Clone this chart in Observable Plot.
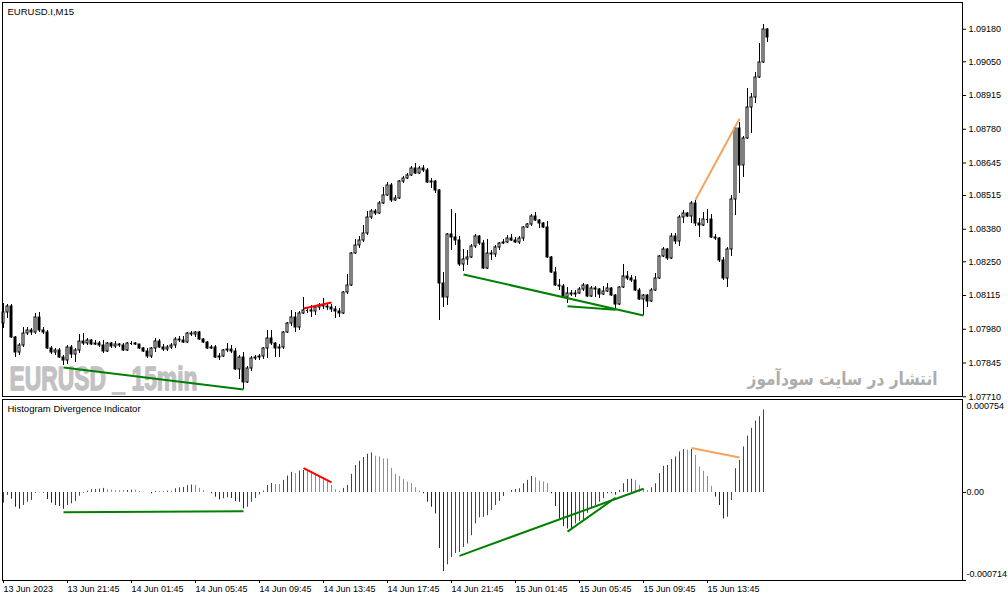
<!DOCTYPE html>
<html><head><meta charset="utf-8">
<script src="https://cdn.jsdelivr.net/npm/d3@7"></script>
<script src="https://cdn.jsdelivr.net/npm/@observablehq/plot@0.6"></script>
<style>
html,body{margin:0;padding:0;background:#fff;}
#chart{position:relative;width:1008px;height:601px;overflow:hidden;}
#chart svg{display:block;}
</style></head><body><div id="chart"></div>
<script>
// EURUSD.I M15 candles, bar 0 = 13 Jun 2023 17:45
const open = [1.08003,1.08047,1.08071,1.07947,1.07887,1.07915,1.07963,1.07975,1.07967,1.08027,1.07975,1.07967,1.07903,1.07887,1.07895,1.07867,1.07855,1.07907,1.07879,1.07895,
1.07931,1.07923,1.07935,1.07919,1.07923,1.07915,1.07891,1.07923,1.07911,1.07919,1.07915,1.07895,1.07923,1.07923,1.07919,1.07903,1.07891,1.07871,1.07903,1.07931,
1.07907,1.07899,1.07907,1.07915,1.07939,1.07935,1.07927,1.07963,1.07959,1.07967,1.07939,1.07927,1.07903,1.07907,1.07867,1.07871,1.07895,1.07899,1.07891,1.07819,
1.07867,1.07767,1.07823,1.07863,1.07867,1.07871,1.07903,1.07943,1.07923,1.07903,1.07907,1.07967,1.08003,1.08027,1.07987,1.08043,1.08055,1.08055,1.08051,1.08067,
1.08075,1.08071,1.08067,1.08059,1.08051,1.08043,1.08127,1.08155,1.08283,1.08315,1.08335,1.08363,1.08427,1.08451,1.08443,1.08483,1.08515,1.08555,1.08495,1.08503,
1.08571,1.08583,1.08595,1.08623,1.08603,1.08623,1.08615,1.08567,1.08571,1.08535,1.08163,1.08107,1.08359,1.08347,1.08335,1.08239,1.08259,1.08267,1.08311,1.08351,
1.08323,1.08223,1.08283,1.08279,1.08307,1.08323,1.08327,1.08343,1.08335,1.08327,1.08343,1.08387,1.08399,1.08431,1.08415,1.08403,1.08387,1.08267,1.08207,1.08155,
1.08151,1.08107,1.08123,1.08119,1.08123,1.08139,1.08155,1.08111,1.08143,1.08139,1.08119,1.08131,1.08143,1.08115,1.08079,1.08147,1.08191,1.08183,1.08175,1.08135,
1.08099,1.08115,1.08091,1.08135,1.08183,1.08271,1.08299,1.08263,1.08351,1.08331,1.08427,1.08443,1.08431,1.08483,1.08403,1.08395,1.08419,1.08419,1.08347,1.08343,
1.08255,1.08183,1.08299,1.08499,1.08783,1.08635,1.08743,1.08867,1.08907,1.08987,1.09047,1.09179];
const high = [1.08083,1.08079,1.08079,1.07951,1.07923,1.07987,1.07987,1.07983,1.08043,1.08047,1.07987,1.07975,1.07911,1.07903,1.07903,1.07875,1.07915,1.07915,1.07903,1.07959,
1.07963,1.07943,1.07939,1.07935,1.07931,1.07935,1.07927,1.07927,1.07931,1.07923,1.07923,1.07927,1.07931,1.07927,1.07919,1.07907,1.07903,1.07907,1.07943,1.07939,
1.07919,1.07915,1.07923,1.07947,1.07951,1.07951,1.07967,1.07971,1.07971,1.07971,1.07943,1.07931,1.07915,1.07915,1.07883,1.07899,1.07923,1.07915,1.07903,1.07875,
1.07887,1.07831,1.07871,1.07875,1.07879,1.07907,1.07975,1.07975,1.07927,1.07919,1.07971,1.08007,1.08055,1.08047,1.08051,1.08107,1.08067,1.08075,1.08071,1.08083,
1.08103,1.08083,1.08079,1.08071,1.08063,1.08131,1.08199,1.08287,1.08339,1.08351,1.08395,1.08451,1.08459,1.08459,1.08491,1.08547,1.08567,1.08563,1.08515,1.08575,
1.08591,1.08603,1.08631,1.08643,1.08631,1.08635,1.08623,1.08583,1.08575,1.08539,1.08207,1.08363,1.08459,1.08443,1.08351,1.08299,1.08295,1.08319,1.08359,1.08355,
1.08335,1.08339,1.08295,1.08315,1.08327,1.08339,1.08355,1.08359,1.08347,1.08351,1.08391,1.08403,1.08439,1.08447,1.08419,1.08407,1.08411,1.08271,1.08227,1.08179,
1.08159,1.08147,1.08135,1.08135,1.08147,1.08163,1.08159,1.08151,1.08151,1.08143,1.08151,1.08163,1.08147,1.08119,1.08151,1.08239,1.08211,1.08195,1.08191,1.08143,
1.08119,1.08119,1.08143,1.08203,1.08275,1.08307,1.08303,1.08363,1.08363,1.08435,1.08455,1.08447,1.08491,1.08495,1.08423,1.08447,1.08459,1.08439,1.08359,1.08347,
1.08267,1.08307,1.08515,1.08795,1.08807,1.08751,1.08943,1.08923,1.09007,1.09123,1.09199,1.09183];
const low = [1.07983,1.08023,1.07943,1.07867,1.07875,1.07907,1.07955,1.07955,1.07959,1.07967,1.07959,1.07899,1.07879,1.07875,1.07863,1.07835,1.07839,1.07863,1.07847,1.07883,
1.07915,1.07915,1.07915,1.07915,1.07907,1.07883,1.07887,1.07903,1.07903,1.07907,1.07891,1.07891,1.07915,1.07915,1.07899,1.07887,1.07863,1.07863,1.07887,1.07903,
1.07891,1.07891,1.07899,1.07903,1.07927,1.07923,1.07923,1.07951,1.07947,1.07935,1.07923,1.07899,1.07899,1.07863,1.07855,1.07867,1.07887,1.07883,1.07815,1.07779,
1.07739,1.07763,1.07811,1.07855,1.07855,1.07859,1.07863,1.07915,1.07867,1.07867,1.07899,1.07963,1.07991,1.07967,1.07975,1.08039,1.08043,1.08027,1.08035,1.08055,
1.08059,1.08055,1.08047,1.08023,1.08027,1.08039,1.08119,1.08151,1.08279,1.08303,1.08327,1.08355,1.08419,1.08435,1.08439,1.08479,1.08511,1.08487,1.08491,1.08499,
1.08563,1.08579,1.08591,1.08599,1.08599,1.08607,1.08563,1.08543,1.08523,1.08015,1.08067,1.08075,1.08295,1.08315,1.08231,1.08211,1.08235,1.08263,1.08303,1.08315,
1.08219,1.08219,1.08255,1.08267,1.08295,1.08319,1.08323,1.08331,1.08323,1.08319,1.08331,1.08383,1.08391,1.08411,1.08383,1.08383,1.08263,1.08203,1.08151,1.08135,
1.08103,1.08083,1.08111,1.08107,1.08119,1.08131,1.08107,1.08107,1.08107,1.08103,1.08115,1.08127,1.08111,1.08059,1.08075,1.08143,1.08175,1.08167,1.08131,1.08095,
1.08035,1.08067,1.08087,1.08131,1.08179,1.08267,1.08255,1.08259,1.08319,1.08311,1.08403,1.08427,1.08403,1.08391,1.08347,1.08391,1.08403,1.08343,1.08335,1.08247,
1.08175,1.08147,1.08271,1.08435,1.08523,1.08587,1.08739,1.08763,1.08883,1.08983,1.09043,1.09127];
const close = [1.08047,1.08071,1.07947,1.07887,1.07915,1.07963,1.07975,1.07967,1.08027,1.07975,1.07967,1.07903,1.07887,1.07895,1.07867,1.07855,1.07907,1.07879,1.07895,1.07931,
1.07923,1.07935,1.07919,1.07923,1.07915,1.07891,1.07923,1.07911,1.07919,1.07915,1.07895,1.07923,1.07923,1.07919,1.07903,1.07891,1.07871,1.07903,1.07931,1.07907,
1.07899,1.07907,1.07915,1.07939,1.07935,1.07927,1.07963,1.07959,1.07967,1.07939,1.07927,1.07903,1.07907,1.07867,1.07871,1.07895,1.07899,1.07891,1.07819,1.07867,
1.07767,1.07823,1.07863,1.07867,1.07871,1.07903,1.07943,1.07923,1.07903,1.07907,1.07967,1.08003,1.08027,1.07987,1.08043,1.08055,1.08055,1.08051,1.08067,1.08075,
1.08071,1.08067,1.08059,1.08051,1.08043,1.08127,1.08155,1.08283,1.08315,1.08335,1.08363,1.08427,1.08451,1.08443,1.08483,1.08515,1.08555,1.08495,1.08503,1.08571,
1.08583,1.08595,1.08623,1.08603,1.08623,1.08615,1.08567,1.08571,1.08535,1.08163,1.08107,1.08359,1.08347,1.08335,1.08239,1.08259,1.08267,1.08311,1.08351,1.08323,
1.08223,1.08283,1.08279,1.08307,1.08323,1.08327,1.08343,1.08335,1.08327,1.08343,1.08387,1.08399,1.08431,1.08415,1.08403,1.08387,1.08267,1.08207,1.08155,1.08151,
1.08107,1.08123,1.08119,1.08123,1.08139,1.08155,1.08111,1.08143,1.08139,1.08119,1.08131,1.08143,1.08115,1.08079,1.08147,1.08191,1.08183,1.08175,1.08135,1.08099,
1.08115,1.08091,1.08135,1.08183,1.08271,1.08299,1.08263,1.08351,1.08331,1.08427,1.08443,1.08431,1.08483,1.08403,1.08395,1.08419,1.08419,1.08347,1.08343,1.08255,
1.08183,1.08299,1.08499,1.08783,1.08635,1.08743,1.08867,1.08907,1.08987,1.09047,1.09179,1.09147];

// Histogram Divergence Indicator values (one per bar, last bar not drawn)
const hist = [-0.000087,-0.000024,-0.000055,-0.000120,-0.000136,-0.000106,-0.000079,-0.000065,-0.000006,-0.000002,-0.000006,-0.000057,-0.000087,-0.000106,-0.000114,-0.000136,-0.000106,-0.000092,-0.000073,-0.000030,
-0.000006,0.000011,0.000022,0.000024,0.000027,0.000033,0.000022,0.000019,0.000016,0.000014,0.000014,0.000016,0.000019,0.000019,0.000008,0.000002,0,-0.000011,0.000008,0.000008,
0.000008,0.000011,0.000011,0.000030,0.000038,0.000041,0.000055,0.000060,0.000057,0.000033,0.000016,0.000002,-0.000011,-0.000038,-0.000060,-0.000051,-0.000043,-0.000049,-0.000073,-0.000079,
-0.000133,-0.000120,-0.000079,-0.000049,-0.000019,0.000011,0.000057,0.000073,0.000065,0.000065,0.000098,0.000133,0.000163,0.000153,0.000174,0.000179,0.000171,0.000169,0.000147,0.000130,
0.000122,0.000090,0.000057,0.000022,0.000011,0.000033,0.000057,0.000147,0.000218,0.000253,0.000283,0.000310,0.000321,0.000294,0.000288,0.000272,0.000272,0.000196,0.000147,0.000130,
0.000104,0.000084,0.000071,0.000038,0.000011,-0.000011,-0.000079,-0.000120,-0.000174,-0.000454,-0.000642,-0.000587,-0.000528,-0.000495,-0.000487,-0.000446,-0.000418,-0.000351,-0.000255,-0.000206,
-0.000201,-0.000188,-0.000147,-0.000106,-0.000073,-0.000033,0.000002,0.000016,0.000024,0.000030,0.000071,0.000098,0.000130,0.000120,0.000092,0.000084,0.000071,-0.000011,-0.000114,-0.000215,
-0.000277,-0.000296,-0.000302,-0.000255,-0.000234,-0.000228,-0.000169,-0.000133,-0.000106,-0.000079,-0.000051,-0.000011,-0.000011,-0.000022,0.000016,0.000071,0.000106,0.000108,0.000098,0.000057,
0.000030,0.000016,0.000038,0.000071,0.000153,0.000212,0.000220,0.000267,0.000288,0.000329,0.000348,0.000343,0.000348,0.000302,0.000206,0.000171,0.000130,0.000049,-0.000038,-0.000106,
-0.000215,-0.000201,-0.000065,0.000193,0.000261,0.000369,0.000457,0.000520,0.000579,0.000614,0.000669];

// divergence lines: start bar, end bar, values in price and indicator windows
const divKind = ["bullish", "bearish", "bullish", "bullish", "hidden"];
const divPriceBar1 = [15, 75, 115, 141, 173];
const divPriceBar2 = [60, 82, 160, 153, 184];
const divPrice1 = [1.07827, 1.08063, 1.08199, 1.08072, 1.08498];
const divPrice2 = [1.07739, 1.08087, 1.08035, 1.08058, 1.08822];
const divIndBar1 = [15, 75, 114, 141, 172];
const divIndBar2 = [60, 82, 160, 153, 184];
const divInd1 = [-0.000160, 0.000198, -0.000514, -0.000318, 0.000361];
const divInd2 = [-0.000152, 0.000082, 0.000030, -0.000043, 0.000283];

const priceTicks = [1.09180, 1.09050, 1.08915, 1.08780, 1.08645, 1.08515, 1.08380, 1.08250, 1.08115, 1.07980, 1.07845, 1.07710];
const indMax = 0.000754, indMin = -0.000714;
const timeTickBars = [0, 16, 32, 48, 64, 80, 96, 112, 128, 144, 160, 176];
const timeLabels = ["13 Jun 2023", "13 Jun 21:45", "14 Jun 01:45", "14 Jun 05:45", "14 Jun 09:45", "14 Jun 13:45", "14 Jun 17:45", "14 Jun 21:45", "15 Jun 01:45", "15 Jun 05:45", "15 Jun 09:45", "15 Jun 13:45"];
const titleText = "EURUSD.I,M15";
const indicatorTitle = "Histogram Divergence Indicator";
const watermark = "EURUSD _ 15min";
const watermarkFa = "انتشار در سایت سودآموز";

// ---- build
const divColor = {bullish: "#008000", bearish: "#ff0000", hidden: "#f4a460"};
const candles = open.map((o, i) => ({i, o, h: high[i], l: low[i], c: close[i]}));
const histData = hist.map((v, i) => {
  const prev = i > 0 ? hist[i - 1] : v;
  const color = v >= 0 ? (v > prev ? "#007400" : "#3dc83d") : (v < prev ? "#800000" : "#e40000");
  return {i, v, color};
});
const priceDivs = divKind.map((k, j) => ({k, x1: divPriceBar1[j], x2: divPriceBar2[j], y1: divPrice1[j], y2: divPrice2[j]}));
const indDivs = divKind.map((k, j) => ({k, x1: divIndBar1[j], x2: divIndBar2[j], y1: divInd1[j], y2: divInd2[j]}));
const xDomain = [-0.25, 239.75];
const baseStyle = {fontFamily: "Liberation Sans, Arial, sans-serif", fontSize: "9px", background: "#fff", color: "#000", overflow: "visible"};

const pricePlot = Plot.plot({
  width: 1008, height: 397,
  marginTop: 2, marginRight: 46, marginBottom: 1, marginLeft: 2,
  x: {domain: xDomain, axis: null},
  y: {domain: [1.07711, 1.09287], axis: null},
  style: baseStyle,
  marks: [
    Plot.text([watermark], {frameAnchor: "bottom-left", dx: 7, dy: -17, textAnchor: "start", lineAnchor: "middle",
      fontSize: 33, fontWeight: "bold", fontFamily: "Liberation Sans, Arial", fill: "#c2c2c2", stroke: "#bdbdbd", strokeWidth: 1.3}),
    Plot.text([watermarkFa], {frameAnchor: "bottom-right", dx: -25, dy: -17, textAnchor: "end", lineAnchor: "middle",
      fontSize: 18, fontWeight: "bold", fontFamily: "DejaVu Sans", fill: "#adadad"}),
    Plot.ruleX(candles, {x: "i", y1: "l", y2: "h", stroke: "#000"}),
    Plot.rect(candles.filter(d => d.o !== d.c), {x1: d => d.i - 0.25, x2: d => d.i + 0.25, y1: "o", y2: "c",
      fill: d => d.c > d.o ? "#ffffff" : "#000000", stroke: "#000"}),
    Plot.ruleY(candles.filter(d => d.o === d.c), {x1: d => d.i - 0.25, x2: d => d.i + 0.25, y: "o", stroke: "#000"}),
    Plot.link(priceDivs, {x1: "x1", y1: "y1", x2: "x2", y2: "y2", stroke: d => divColor[d.k], strokeWidth: 2}),
    Plot.frame({stroke: "#000"}),
    Plot.axisY(priceTicks, {anchor: "right", tickSize: 3, tickPadding: 3, tickFormat: d => d.toFixed(5)}),
    Plot.text([titleText], {frameAnchor: "top-left", dx: 5, dy: 6, textAnchor: "start", lineAnchor: "top", fontSize: 9.5})
  ]
});

const indPlot = Plot.plot({
  width: 1008, height: 204,
  marginTop: 2, marginRight: 46, marginBottom: 21, marginLeft: 2,
  x: {domain: xDomain, axis: null},
  y: {domain: [indMin, indMax], axis: null},
  style: baseStyle,
  marks: [
    Plot.ruleX(histData, {x: "i", y1: 0, y2: "v", stroke: "color"}),
    Plot.link(indDivs, {x1: "x1", y1: "y1", x2: "x2", y2: "y2", stroke: d => divColor[d.k], strokeWidth: 2}),
    Plot.frame({stroke: "#000"}),
    Plot.axisY([0, indMin], {anchor: "right", tickSize: 3, tickPadding: 1, tickFormat: d => d === 0 ? "0.00" : ""}),
    Plot.text([indMax], {y: d => d, frameAnchor: "right", dx: 4, dy: 7, textAnchor: "start", text: d => d.toFixed(6)}),
    Plot.text([indMin], {y: d => d, frameAnchor: "right", dx: 4, dy: -6, textAnchor: "start", text: d => d.toFixed(6)}),
    Plot.axisX(timeTickBars, {anchor: "bottom", tickSize: 3, tickPadding: 2, textAnchor: "start",
      tickFormat: d => timeLabels[timeTickBars.indexOf(d)]}),
    Plot.text([indicatorTitle], {frameAnchor: "top-left", dx: 5, dy: 6, textAnchor: "start", lineAnchor: "top", fontSize: 9.5})
  ]
});

const root = document.getElementById("chart");
root.appendChild(pricePlot);
root.appendChild(indPlot);
d3.select(pricePlot).selectAll("text").filter(function () { return this.textContent === watermark; })
  .attr("textLength", 188).attr("lengthAdjust", "spacingAndGlyphs");
d3.select(pricePlot).selectAll("text").filter(function () { return this.textContent === watermarkFa; })
  .attr("textLength", 190).attr("lengthAdjust", "spacingAndGlyphs");
</script>
</body></html>
